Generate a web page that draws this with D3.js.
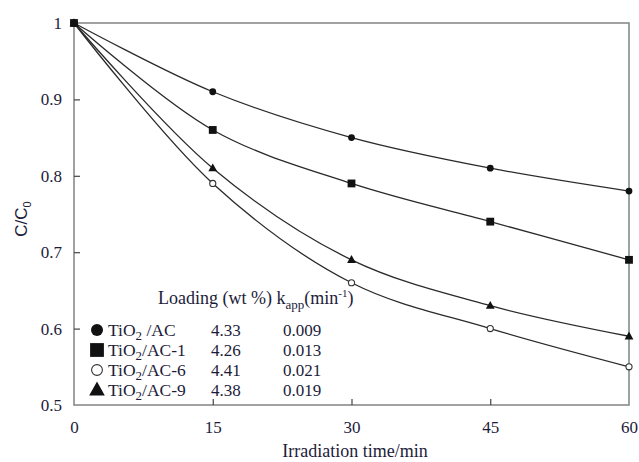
<!DOCTYPE html>
<html>
<head>
<meta charset="utf-8">
<script src="https://cdn.jsdelivr.net/npm/d3@7"></script>
<style>
  html, body { margin: 0; padding: 0; background: #fff; }
  svg text { font-family: "Liberation Serif", "DejaVu Serif", serif; fill: #1c1c3a; }
</style>
</head>
<body>
<svg id="chart" width="639" height="462"></svg>
<script>
// Irradiation time (min)
const times = [0, 15, 30, 45, 60];
const xTicks = [0, 15, 30, 45, 60];
const yTicks = [0.5, 0.6, 0.7, 0.8, 0.9, 1];

// C/C0 for each catalyst
const seriesNames = ["TiO2 /AC", "TiO2/AC-1", "TiO2/AC-6", "TiO2/AC-9"];
const acValues  = [1, 0.91, 0.85, 0.81, 0.78];
const ac1Values = [1, 0.86, 0.79, 0.74, 0.69];
const ac6Values = [1, 0.79, 0.66, 0.60, 0.55];
const ac9Values = [1, 0.81, 0.69, 0.63, 0.59];

// Legend table columns
const loadings = ["4.33", "4.26", "4.41", "4.38"];
const kApp = ["0.009", "0.013", "0.021", "0.019"];

const series = [
  { name: seriesNames[0], values: acValues,  marker: "circle",   load: loadings[0], k: kApp[0] },
  { name: seriesNames[1], values: ac1Values, marker: "square",   load: loadings[1], k: kApp[1] },
  { name: seriesNames[2], values: ac6Values, marker: "ocircle",  load: loadings[2], k: kApp[2] },
  { name: seriesNames[3], values: ac9Values, marker: "triangle", load: loadings[3], k: kApp[3] }
];

const svg = d3.select("#chart");
const m = { left: 74, right: 629, top: 23, bottom: 405 };

const x = d3.scaleLinear().domain([0, 60]).range([m.left, m.right]);
const y = d3.scaleLinear().domain([0.5, 1]).range([m.bottom, m.top]);

const frameColor = "#8a8a8a";

// Plot frame
svg.append("rect")
  .attr("x", m.left).attr("y", m.top)
  .attr("width", m.right - m.left).attr("height", m.bottom - m.top)
  .attr("fill", "none").attr("stroke", frameColor).attr("stroke-width", 1.6);

// Axes with inward ticks
const xAxis = svg.append("g").attr("transform", `translate(0,${m.bottom})`)
  .call(d3.axisBottom(x).tickValues(xTicks).tickSizeInner(-6).tickSizeOuter(0).tickPadding(16)
    .tickFormat(d3.format("d")));
const yAxis = svg.append("g").attr("transform", `translate(${m.left},0)`)
  .call(d3.axisLeft(y).tickValues(yTicks).tickSizeInner(-6).tickSizeOuter(0).tickPadding(12)
    .tickFormat(d => d === 1 ? "1" : d3.format(".1f")(d)));

[xAxis, yAxis].forEach(a => {
  a.select(".domain").remove();
  a.selectAll(".tick line").attr("stroke", "#444").attr("stroke-width", 1.2);
  a.selectAll(".tick text").attr("font-size", 17).attr("font-family", "Liberation Serif").attr("fill", "#1c1c3a");
});
xAxis.selectAll(".tick").filter(d => d === 0 || d === 60).select("line").remove();
yAxis.selectAll(".tick").filter(d => d === 0.5 || d === 1).select("line").remove();

// Axis titles
svg.append("text")
  .attr("x", 355).attr("y", 457)
  .attr("text-anchor", "middle").attr("font-size", 18)
  .text("Irradiation time/min");

const yTitle = svg.append("text")
  .attr("transform", "translate(27,219) rotate(-90)")
  .attr("text-anchor", "middle").attr("font-size", 17)
  .style("font-family", "'Liberation Sans', Arial, sans-serif");
yTitle.append("tspan").text("C/C");
yTitle.append("tspan").attr("font-size", 11).attr("dy", 4).text("0");

// Curves
const line = d3.line()
  .x((d, i) => x(times[i]))
  .y(d => y(d))
  .curve(d3.curveCatmullRom.alpha(0.5));

svg.append("g").selectAll("path").data(series).join("path")
  .attr("d", s => line(s.values))
  .attr("fill", "none").attr("stroke", "#2a2a2a").attr("stroke-width", 1.3);

// Marker drawing
function drawMarker(g, type, cx, cy, size) {
  if (type === "circle") {
    g.append("circle").attr("cx", cx).attr("cy", cy).attr("r", size * 0.5).attr("fill", "#111");
  } else if (type === "ocircle") {
    g.append("circle").attr("cx", cx).attr("cy", cy).attr("r", size * 0.45)
      .attr("fill", "#fff").attr("stroke", "#333").attr("stroke-width", 1.1);
  } else if (type === "square") {
    const s = size * 1.15;
    g.append("rect").attr("x", cx - s / 2).attr("y", cy - s / 2).attr("width", s).attr("height", s).attr("fill", "#111");
  } else if (type === "triangle") {
    const s = size * 1.3;
    const h = s * 0.9;
    g.append("path")
      .attr("d", `M${cx},${cy - h * 0.6}L${cx + s / 2},${cy + h * 0.4}L${cx - s / 2},${cy + h * 0.4}Z`)
      .attr("fill", "#111");
  }
}

const markerOrder = [2, 3, 0, 1];
const mg = svg.append("g");
markerOrder.forEach(si => {
  const s = series[si];
  s.values.forEach((v, i) => drawMarker(mg, s.marker, x(times[i]), y(v), 6.8));
});

// Legend table
const lg = svg.append("g");
const header = lg.append("text").attr("x", 158).attr("y", 304).attr("font-size", 18);
header.append("tspan").text("Loading (wt %) k");
header.append("tspan").attr("font-size", 13).attr("dy", 5).text("app");
header.append("tspan").attr("dy", -5).text("(min");
header.append("tspan").attr("font-size", 11).attr("dy", -7).text("-1");
header.append("tspan").attr("dy", 7).text(")");

const rowY = [330, 350, 370, 390];
series.forEach((s, i) => {
  const cy = rowY[i];
  drawMarker(lg, s.marker, 97, cy, 12);
  const t = lg.append("text").attr("x", 108).attr("y", cy + 6).attr("font-size", 17.5);
  const parts = s.name.split("2");
  t.append("tspan").text(parts[0]);
  t.append("tspan").attr("font-size", 13).attr("dy", 4).text("2");
  t.append("tspan").attr("dy", -4).text(parts[1]);
  lg.append("text").attr("x", 211).attr("y", cy + 6).attr("font-size", 17).text(s.load);
  lg.append("text").attr("x", 283).attr("y", cy + 6).attr("font-size", 17).text(s.k);
});
</script>
</body>
</html>
